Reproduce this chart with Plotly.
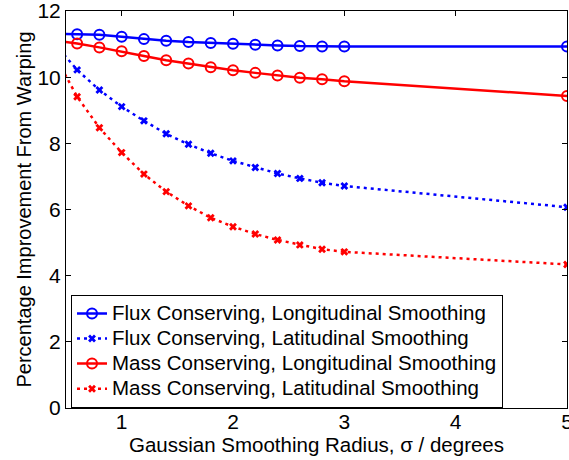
import plotly.graph_objects as go

# Smoothing radius (degrees); the first sample lies just left of the visible range
sigma = [0.4, 0.6, 0.8, 1.0, 1.2, 1.4, 1.6, 1.8, 2.0, 2.2, 2.4, 2.6, 2.8, 3.0, 5.0]

flux_long = [11.31, 11.30, 11.28, 11.22, 11.15, 11.10, 11.06, 11.03, 11.01,
             10.98, 10.96, 10.94, 10.93, 10.93, 10.93]
flux_lat = [11.00, 10.22, 9.61, 9.11, 8.68, 8.29, 7.97, 7.70, 7.47,
            7.27, 7.09, 6.94, 6.81, 6.71, 6.07]
mass_long = [11.10, 11.02, 10.90, 10.78, 10.64, 10.51, 10.41, 10.30, 10.21,
             10.13, 10.05, 9.98, 9.94, 9.88, 9.43]
mass_lat = [10.65, 9.41, 8.47, 7.72, 7.07, 6.54, 6.11, 5.75, 5.48,
            5.26, 5.08, 4.93, 4.80, 4.72, 4.34]

x_ticks = [1, 2, 3, 4, 5]
y_ticks = [0, 2, 4, 6, 8, 10, 12]

BLUE = "#0000ff"
RED = "#ff0000"
FONT = "Liberation Sans, Arial, Helvetica, sans-serif"

series = [
    ("Flux Conserving, Longitudinal Smoothing", flux_long, BLUE, "solid", "circle-open"),
    ("Flux Conserving, Latitudinal Smoothing", flux_lat, BLUE, "3px,4px", "x"),
    ("Mass Conserving, Longitudinal Smoothing", mass_long, RED, "solid", "circle-open"),
    ("Mass Conserving, Latitudinal Smoothing", mass_lat, RED, "3px,4px", "x"),
]

fig = go.Figure()
for name, vals, color, dash, symbol in series:
    if symbol == "circle-open":
        marker = dict(symbol=symbol, size=10, color=color, line=dict(width=2, color=color))
    else:
        marker = dict(symbol=symbol, size=7, color=color, line=dict(width=0))
    fig.add_trace(go.Scatter(
        x=sigma, y=vals, mode="lines+markers",
        # larger text inside a compact legend row
        name=f'<span style="font-size:20.5px">{name}</span>',
        line=dict(color=color, width=2.5, dash=dash),
        marker=marker,
    ))

axis_common = dict(
    showline=True, linecolor="black", linewidth=1, mirror="ticks",
    ticks="inside", ticklen=5, tickcolor="black", tickwidth=1,
    showgrid=False, zeroline=False, ticklabeloverflow="allow",
    automargin=False,
    tickfont=dict(family=FONT, size=21, color="black"),
)

fig.update_layout(
    width=569, height=460,
    margin=dict(l=66, r=2, t=11, b=52),
    paper_bgcolor="white", plot_bgcolor="white",
    font=dict(family=FONT, color="black"),
    showlegend=True,
    legend=dict(
        x=0.01, y=0.285, xanchor="left", yanchor="top",
        bgcolor="white", bordercolor="black", borderwidth=1,
        font=dict(family=FONT, size=17, color="black"),
        itemwidth=30, tracegroupgap=0,
    ),
    xaxis=dict(
        range=[0.5, 5], tickvals=x_ticks, ticktext=[str(v) for v in x_ticks],
        ticklabelstandoff=-5,
        title=dict(text="Gaussian Smoothing Radius, σ / degrees",
                   font=dict(family=FONT, size=20.5, color="black"), standoff=0),
        **axis_common,
    ),
    yaxis=dict(
        range=[0, 12], tickvals=y_ticks, ticktext=[str(v) for v in y_ticks],
        title=dict(text="Percentage Improvement From Warping",
                   font=dict(family=FONT, size=20, color="black"), standoff=0),
        **axis_common,
    ),
)

fig.write_html("out.html")
